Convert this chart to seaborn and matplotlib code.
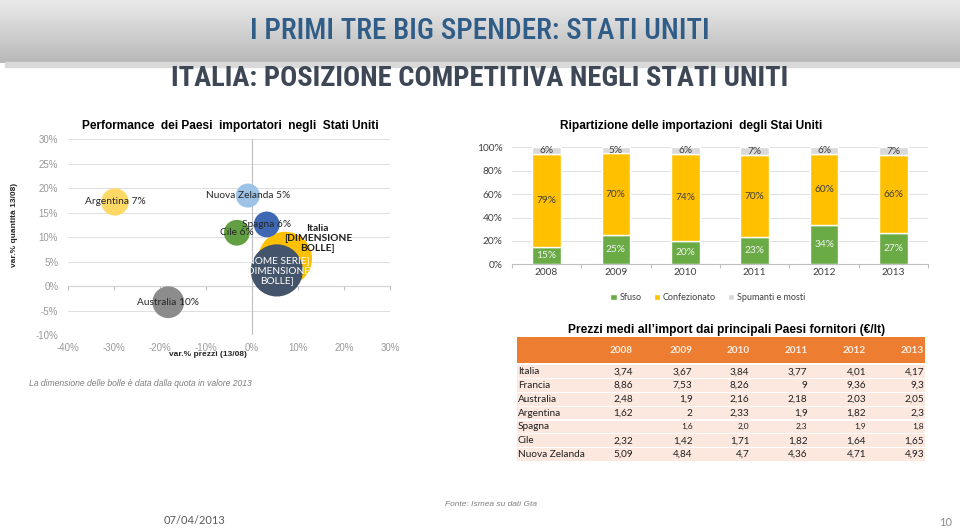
import numpy as np
import pandas as pd
import matplotlib
matplotlib.use("Agg")
import matplotlib.pyplot as plt
import seaborn as sns
from matplotlib.patches import Rectangle
from matplotlib.colors import LinearSegmentedColormap

# bubble chart: var.% prezzi / var.% quantita 13/08, quota in valore 2013
paesi = ["Italia", "Francia", "Spagna", "Cile", "Nuova Zelanda", "Argentina", "Australia"]
var_prezzi = [7.2, 5.4, 3.2, -3.3, -0.9, -29.8, -18.2]
var_quantita = [5.6, 3.2, 12.6, 10.9, 18.5, 17.2, -3.3]
quota_2013 = [32, 30, 6, 6, 5, 7, 10]
etichette = ["Italia\n[DIMENSIONE\nBOLLE]", "[NOME SERIE]\n[DIMENSIONE\nBOLLE]", "Spagna 6%",
             "Cile 6%", "Nuova Zelanda 5%", "Argentina 7%", "Australia 10%"]

# stacked bars: ripartizione delle importazioni
anni = ["2008", "2009", "2010", "2011", "2012", "2013"]
sfuso = [15, 25, 20, 23, 34, 27]
confezionato = [79, 70, 74, 70, 60, 66]
spumanti = [6, 5, 6, 7, 6, 7]

# table: prezzi medi all'import (EUR/lt)
paesi_tab = ["Italia", "Francia", "Australia", "Argentina", "Spagna", "Cile", "Nuova Zelanda"]
prezzi = [
    ["3,74", "3,67", "3,84", "3,77", "4,01", "4,17"],
    ["8,86", "7,53", "8,26", "9", "9,36", "9,3"],
    ["2,48", "1,9", "2,16", "2,18", "2,03", "2,05"],
    ["1,62", "2", "2,33", "1,9", "1,82", "2,3"],
    ["", "1,6", "2,0", "2,3", "1,9", "1,8"],
    ["2,32", "1,42", "1,71", "1,82", "1,64", "1,65"],
    ["5,09", "4,84", "4,7", "4,36", "4,71", "4,93"],
]

W, H = 960, 529
sns.set_theme(style="white")
plt.rcParams["font.family"] = ["Liberation Sans", "DejaVu Sans"]
CAL = ["Lato", "DejaVu Sans"]
NARROW = ["Liberation Sans Narrow", "Roboto Condensed", "Roboto", "DejaVu Sans"]

fig = plt.figure(figsize=(W / 100, H / 100), dpi=100)
fig.patch.set_facecolor("white")
to_fit = []  # (text, target width px)


def px_axes(left, top, right, bottom):
    return fig.add_axes([left / W, 1 - bottom / H, (right - left) / W, (bottom - top) / H])


def ftext(x, y, s, width=None, **kw):
    kw.setdefault("ha", "center")
    kw.setdefault("va", "center")
    t = fig.text(x / W, 1 - y / H, s, **kw)
    if width:
        to_fit.append((t, width))
    return t


# header band
fig.patches.append(Rectangle((5 / W, 1 - 67 / H), (W - 5) / W, 5 / H, transform=fig.transFigure,
                             color="#D9D9D9", zorder=0))
hdr = px_axes(0, 0, W, 63)
hdr.imshow(np.linspace(0, 1, 64)[:, None], aspect="auto", extent=(0, 1, 0, 1),
           cmap=LinearSegmentedColormap.from_list("hdr", ["#EAEAEA", "#B8B8B8"]))
hdr.axis("off")
ftext(480, 31, "I PRIMI TRE BIG SPENDER: STATI UNITI", width=460, fontsize=20,
      color="#2F5D88", family=NARROW, fontstretch="condensed", fontweight="medium")
ftext(480, 79, "ITALIA: POSIZIONE COMPETITIVA NEGLI STATI UNITI", width=615, fontsize=19,
      color="#3D4755", family=NARROW, fontstretch="condensed", fontweight="bold")

# ---- bubble chart
colori = {"Italia": "#FFC000", "Francia": "#44546A", "Spagna": "#3F68B3", "Cile": "#63A044",
          "Nuova Zelanda": "#9DC3E6", "Argentina": "#FFD966", "Australia": "#8C8C8C"}
df = pd.DataFrame({"paese": paesi, "prezzi": var_prezzi, "quantita": var_quantita,
                   "quota": quota_2013, "etichetta": etichette})

ax1 = px_axes(68, 139.3, 390, 335)
sns.scatterplot(data=df, x="prezzi", y="quantita", hue="paese", palette=colori,
                size="quota", sizes=(300, 1500), size_norm=(5, 32), legend=False,
                linewidth=0, alpha=1, ax=ax1, zorder=3)
ax1.set_xlim(-40, 30)
ax1.set_ylim(-10, 30)
ax1.set_xticks(range(-40, 31, 10))
ax1.set_xticklabels([f"{v}%" for v in range(-40, 31, 10)])
ax1.set_yticks(range(-10, 31, 5))
ax1.set_yticklabels([f"{v}%" for v in range(-10, 31, 5)])
ax1.tick_params(length=0, labelsize=7, labelcolor="#9A9A9A")
ax1.tick_params(axis="y", pad=7)
ax1.tick_params(axis="x", pad=6)
ax1.set_xlabel("")
ax1.set_ylabel("")
for s in ax1.spines.values():
    s.set_visible(False)
ax1.grid(axis="y", color="#D9D9D9", lw=0.6)
ax1.grid(axis="x", visible=False)
ax1.set_axisbelow(True)
ax1.axvline(0, color="#BFBFBF", lw=0.8, zorder=1)
sec = ax1.secondary_xaxis(0.25)
sec.set_xticks(range(-40, 31, 10))
sec.set_xticklabels([])
sec.tick_params(length=3, color="#BFBFBF", width=0.8)
sec.spines["bottom"].set_color("#BFBFBF")
sec.spines["bottom"].set_linewidth(0.8)

for _, r in df.iterrows():
    if r["paese"] == "Italia":
        ax1.text(14.3, 9.8, r["etichetta"], ha="center", va="center", fontsize=7.3,
                 fontweight="bold", color="#1F1F1F", family=CAL, linespacing=1.15, zorder=5)
    elif r["paese"] == "Francia":
        ax1.text(r["prezzi"], r["quantita"], r["etichetta"], ha="center", va="center",
                 fontsize=7.3, color="white", family=CAL, linespacing=1.15, zorder=5)
    else:
        ax1.text(r["prezzi"], r["quantita"], r["etichetta"], ha="center", va="center",
                 fontsize=7.3, color="#262626", family=CAL, zorder=5)

ftext(230, 126, "Performance  dei Paesi  importatori  negli  Stati Uniti", width=298,
      fontsize=8.2, fontweight="bold", color="black")
ftext(15, 225, "var.% quantità 13/08)", fontsize=6, fontweight="bold", rotation=90, color="#262626")
ftext(208, 355, "var.% prezzi (13/08)", fontsize=6, fontweight="bold", color="#262626")
ftext(29, 383, "La dimensione delle bolle è data dalla quota in valore 2013", ha="left",
      fontsize=6.2, style="italic", color="#7F7F7F")

# ---- stacked bars
dfb = pd.DataFrame({"anno": anni, "Sfuso": sfuso, "Confezionato": confezionato,
                    "Spumanti e mosti": spumanti})
ax2 = px_axes(511.7, 147.3, 928.3, 264.3)
serie = [("Sfuso", "#6AAB45", "#F2F2F2"), ("Confezionato", "#FFC000", "#404040"),
         ("Spumanti e mosti", "#D9D9D9", "#404040")]
base = np.zeros(len(anni))
for col, colour, lab_col in serie:
    sns.barplot(data=dfb, x="anno", y=col, color=colour, saturation=1, width=0.41,
                errorbar=None, bottom=base.copy(), label=col, ax=ax2, zorder=2)
    ax2.bar_label(ax2.containers[-1], fmt="%g%%", label_type="center", fontsize=7.3,
                  color=lab_col, family=CAL)
    base += dfb[col].to_numpy()
if ax2.get_legend() is not None:
    ax2.get_legend().remove()
ax2.set_ylim(0, 100)
ax2.set_xlim(-0.5, len(anni) - 0.5)
ax2.set_yticks(range(0, 101, 20))
ax2.set_yticklabels([f"{v}%" for v in range(0, 101, 20)])
ax2.set_xticks(range(len(anni)), anni)
ax2.set_xticks(np.arange(-0.5, len(anni), 1), minor=True)
ax2.tick_params(axis="both", which="major", length=0, labelsize=7.3, labelcolor="#404040")
ax2.tick_params(axis="y", pad=6.5)
ax2.tick_params(axis="x", pad=3)
ax2.tick_params(axis="x", which="minor", length=3, color="#BFBFBF", width=0.8, bottom=True)
for lab in ax2.get_xticklabels() + ax2.get_yticklabels():
    lab.set_family(CAL)
ax2.set_xlabel("")
ax2.set_ylabel("")
for k in ["left", "top", "right"]:
    ax2.spines[k].set_visible(False)
ax2.spines["bottom"].set_color("#BFBFBF")
ax2.spines["bottom"].set_linewidth(0.8)
ax2.grid(axis="y", color="#D9D9D9", lw=0.6)
ax2.set_axisbelow(True)
handles, labels = ax2.get_legend_handles_labels()
fig.legend(handles, labels, loc="center", bbox_to_anchor=(708 / W, 1 - 297.7 / H), ncol=3,
           frameon=False, prop={"family": CAL, "size": 6.5}, handlelength=0.7, handleheight=0.7,
           handletextpad=0.35, columnspacing=1.3, labelcolor="#404040")
ftext(691, 126, "Ripartizione delle importazioni  degli Stai Uniti", width=265, fontsize=8.2,
      fontweight="bold", color="black")

# ---- table
ax3 = px_axes(500, 310, 960, 470)
ax3.set_xlim(500, 960)
ax3.set_ylim(470, 310)
ax3.axis("off")
col_right = [633, 692.5, 749.5, 807.5, 866, 924]
tab_left, tab_right = 517, 925
ax3.add_patch(Rectangle((tab_left, 337.3), tab_right - tab_left, 26, color="#ED7D31", lw=0))
for x, a in zip(col_right, anni):
    ax3.text(x, 350.5, a, ha="right", va="center", fontsize=7.2, fontweight="bold",
             color="#FDEEE5", family=CAL)
row_top, row_h = 364.8, 13.8
for i, (p, vals) in enumerate(zip(paesi_tab, prezzi)):
    top = row_top + i * row_h
    ax3.add_patch(Rectangle((tab_left, top + 0.6), tab_right - tab_left, row_h - 1.2,
                            color="#FCE8DF", lw=0))
    yc = top + row_h / 2
    fs = 6 if p == "Spagna" else 7.2
    ax3.text(tab_left + 1, yc, p, ha="left", va="center", fontsize=7.2, color="#1F1F1F", family=CAL)
    for x, v in zip(col_right, vals):
        ax3.text(x, yc, v, ha="right", va="center", fontsize=fs, color="#1F1F1F", family=CAL)
ftext(726.7, 330.5, "Prezzi medi all’import dai principali Paesi fornitori (€/lt)", width=313,
      fontsize=9.3, fontweight="bold", color="black")

# footer
ftext(491, 505, "Fonte: Ismea su dati Gta", fontsize=6, style="italic", color="#7F7F7F")
ftext(195, 520, "07/04/2013", fontsize=8, color="#595959", family=CAL)
ftext(946, 523, "10", fontsize=8, color="#8C8C8C", family=CAL)

# scale titles so they span the same width as in the slide
renderer = fig.canvas.get_renderer()
for t, target in to_fit:
    w = t.get_window_extent(renderer).width
    t.set_fontsize(t.get_fontsize() * target / w)

fig.savefig("out.png", dpi=100)
